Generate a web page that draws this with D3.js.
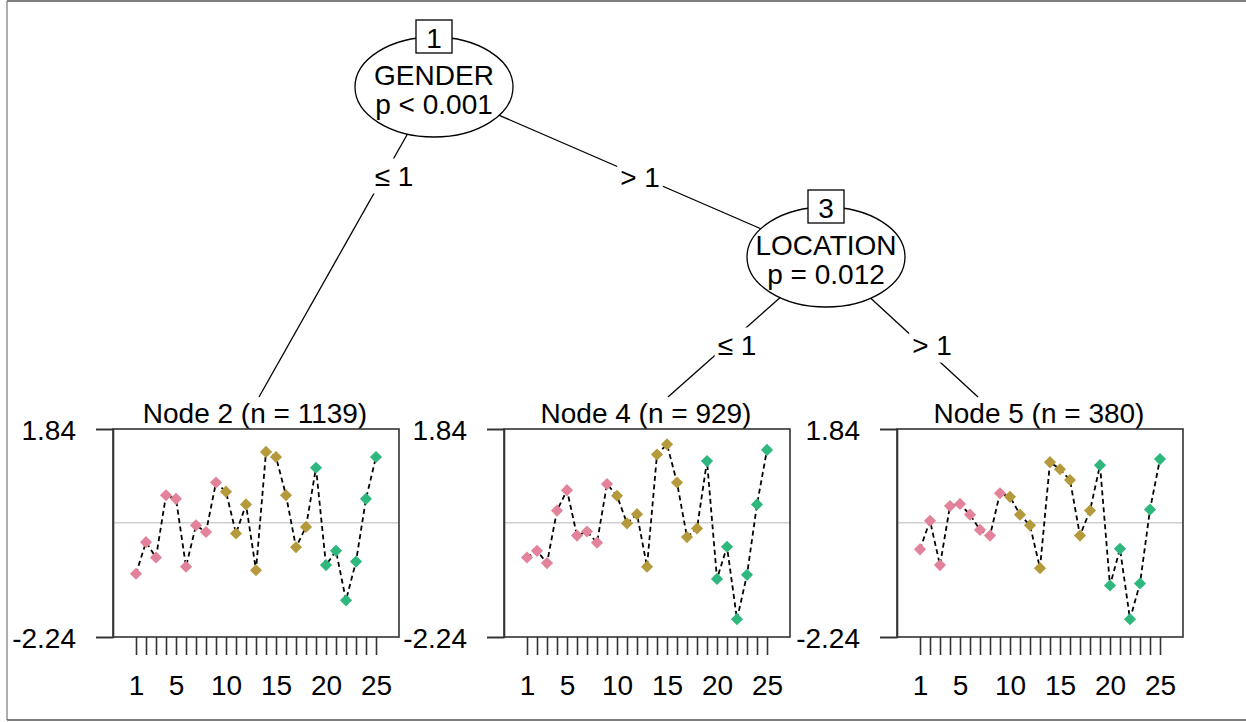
<!DOCTYPE html>
<html>
<head>
<meta charset="utf-8">
<script src="https://cdn.jsdelivr.net/npm/d3@7"></script>
<style>
  html, body { margin: 0; padding: 0; background: #fff; }
  svg { display: block; }
  text { font-family: "Liberation Sans", Arial, sans-serif; fill: #000; }
</style>
</head>
<body>
<svg id="chart" width="1246" height="722"></svg>
<script>
// ---------------- data ----------------
const timePoints = [1,2,3,4,5,6,7,8,9,10,11,12,13,14,15,16,17,18,19,20,21,22,23,24,25];
const pointGroups = ["a","a","a","a","a","a","a","a","a",
                     "b","b","b","b","b","b","b","b","b",
                     "c","c","c","c","c","c","c"];
const xTickLabels = [1, 5, 10, 15, 20, 25];
const yTickLabels = [-2.24, 1.84];

const node2Values = [-1.00,-0.38,-0.68,0.54,0.47,-0.86,-0.05,-0.18,0.79,
                     0.61,-0.21,0.36,-0.93,1.39,1.29,0.54,-0.48,-0.08,
                     1.08,-0.83,-0.55,-1.52,-0.76,0.47,1.29];
const node4Values = [-0.68,-0.55,-0.79,0.24,0.64,-0.25,-0.17,-0.39,0.76,
                     0.53,-0.01,0.17,-0.86,1.34,1.54,0.79,-0.28,-0.11,
                     1.21,-1.10,-0.47,-1.89,-1.02,0.36,1.43];
const node5Values = [-0.52,0.04,-0.83,0.33,0.37,0.16,-0.14,-0.25,0.58,
                     0.51,0.16,-0.05,-0.89,1.19,1.05,0.84,-0.25,0.24,
                     1.13,-1.23,-0.51,-1.89,-1.19,0.26,1.25];

const terminalTitles = ["Node 2 (n = 1139)", "Node 4 (n = 929)", "Node 5 (n = 380)"];
const innerIds = ["1", "3"];
const innerVars = ["GENDER", "LOCATION"];
const innerPvals = ["p < 0.001", "p = 0.012"];
const edgeLabels = ["\u2264 1", "> 1", "\u2264 1", "> 1"];

// ---------------- layout / style ----------------
const groupColor = { a: "#E2839B", b: "#B59A3C", c: "#2EB87D" };
const FONT = 28;
const panelLefts = [113, 504, 897];
const panelW = 286, panelTop = 429, panelBottom = 637;
const innerPos = [{x: 434, y: 87}, {x: 826, y: 257}];
const ellR = {rx: 79, ry: 50};
const termTops = [{x: 259, y: 397}, {x: 668, y: 397}, {x: 978, y: 397}];
const edges = [
  {from: innerPos[0], to: termTops[0], lab: {x: 394, y: 176}},
  {from: innerPos[0], to: innerPos[1], lab: {x: 640, y: 177}},
  {from: innerPos[1], to: termTops[1], lab: {x: 737, y: 345}},
  {from: innerPos[1], to: termTops[2], lab: {x: 932, y: 345}}
];

const svg = d3.select("#chart");

// outer frame
svg.append("line").attr("x1", 7).attr("x2", 1246).attr("y1", 1).attr("y2", 1)
  .attr("stroke", "#555").attr("stroke-width", 1.5);
svg.append("line").attr("x1", 7).attr("x2", 7).attr("y1", 1).attr("y2", 720)
  .attr("stroke", "#777").attr("stroke-width", 1.2);
svg.append("line").attr("x1", 7).attr("x2", 1246).attr("y1", 720).attr("y2", 720)
  .attr("stroke", "#555").attr("stroke-width", 1.5);

// edges
edges.forEach((e, i) => {
  svg.append("line")
    .attr("x1", e.from.x).attr("y1", e.from.y)
    .attr("x2", e.to.x).attr("y2", e.to.y)
    .attr("stroke", "#000").attr("stroke-width", 1.3);
  const t = svg.append("text")
    .attr("x", e.lab.x).attr("y", e.lab.y)
    .attr("text-anchor", "middle").attr("dominant-baseline", "central")
    .attr("font-size", FONT).text(edgeLabels[i]);
  const bb = t.node().getBBox();
  svg.insert("rect", () => t.node())
    .attr("x", bb.x - 3).attr("y", bb.y - 2)
    .attr("width", bb.width + 6).attr("height", bb.height + 4)
    .attr("fill", "#fff");
});

// inner nodes
innerPos.forEach((p, i) => {
  svg.append("ellipse").attr("cx", p.x).attr("cy", p.y)
    .attr("rx", ellR.rx).attr("ry", ellR.ry)
    .attr("fill", "#fff").attr("stroke", "#000").attr("stroke-width", 1.3);
  svg.append("rect").attr("x", p.x - 18).attr("y", p.y - ellR.ry - 17)
    .attr("width", 36).attr("height", 33)
    .attr("fill", "#fff").attr("stroke", "#000").attr("stroke-width", 1.3);
  svg.append("text").attr("x", p.x).attr("y", p.y - ellR.ry + 1)
    .attr("text-anchor", "middle").attr("dominant-baseline", "central")
    .attr("font-size", FONT).text(innerIds[i]);
  svg.append("text").attr("x", p.x).attr("y", p.y - 12)
    .attr("text-anchor", "middle").attr("dominant-baseline", "central")
    .attr("font-size", FONT).text(innerVars[i]);
  svg.append("text").attr("x", p.x).attr("y", p.y + 17)
    .attr("text-anchor", "middle").attr("dominant-baseline", "central")
    .attr("font-size", FONT).text(innerPvals[i]);
});

// terminal panels
const y = d3.scaleLinear().domain([yTickLabels[0], yTickLabels[1]]).range([panelBottom, panelTop]);
const panelData = [node2Values, node4Values, node5Values];
const diamond = d3.symbol().type(d3.symbolSquare).size(74);

panelData.forEach((vals, k) => {
  const left = panelLefts[k];
  const x = d3.scaleLinear().domain([timePoints[0], timePoints[timePoints.length - 1]])
    .range([left + 23, left + 263]);
  const g = svg.append("g");

  // title
  g.append("text").attr("x", left + panelW / 2 - 1).attr("y", 413)
    .attr("text-anchor", "middle").attr("dominant-baseline", "central")
    .attr("font-size", FONT).text(terminalTitles[k]);

  // zero reference line
  g.append("line").attr("x1", left).attr("x2", left + panelW)
    .attr("y1", y(0)).attr("y2", y(0))
    .attr("stroke", "#cfcfcf").attr("stroke-width", 1.5);

  // box
  g.append("rect").attr("x", left).attr("y", panelTop)
    .attr("width", panelW).attr("height", panelBottom - panelTop)
    .attr("fill", "none").attr("stroke", "#333").attr("stroke-width", 1.6);

  // y axis
  const yAxis = d3.axisLeft(y).tickValues(yTickLabels).tickSize(17).tickPadding(20)
    .tickFormat(d3.format(".2f"));
  const ya = g.append("g").attr("transform", `translate(${left},0)`).call(yAxis);
  ya.select(".domain").attr("stroke", "#333").attr("stroke-width", 1.6);
  ya.selectAll(".tick line").attr("stroke", "#333").attr("stroke-width", 1.6);
  ya.selectAll(".tick text").attr("font-size", FONT)
    .attr("font-family", "Liberation Sans, Arial, sans-serif").attr("fill", "#000")
    .attr("dy", "0.36em").text(d => d3.format(".2f")(d).replace("\u2212", "-"));

  // x axis (ticks at all points, labels at a subset)
  const xAxis = d3.axisBottom(x).tickValues(timePoints).tickSize(18).tickPadding(20)
    .tickFormat(d => xTickLabels.includes(d) ? d : "");
  const xa = g.append("g").attr("transform", `translate(0,${panelBottom})`).call(xAxis);
  xa.select(".domain").remove();
  xa.selectAll(".tick line").attr("stroke", "#333").attr("stroke-width", 1.6);
  xa.selectAll(".tick text").attr("font-size", FONT)
    .attr("font-family", "Liberation Sans, Arial, sans-serif").attr("fill", "#000");

  // dashed profile line
  const line = d3.line().x((d, i) => x(timePoints[i])).y(d => y(d));
  g.append("path").datum(vals).attr("d", line)
    .attr("fill", "none").attr("stroke", "#000").attr("stroke-width", 1.8)
    .attr("stroke-dasharray", "5,3.5");

  // diamond markers
  g.selectAll("path.pt").data(vals).enter().append("path")
    .attr("class", "pt")
    .attr("d", diamond)
    .attr("transform", (d, i) => `translate(${x(timePoints[i])},${y(d)}) rotate(45)`)
    .attr("fill", (d, i) => groupColor[pointGroups[i]]);
});
</script>
</body>
</html>
